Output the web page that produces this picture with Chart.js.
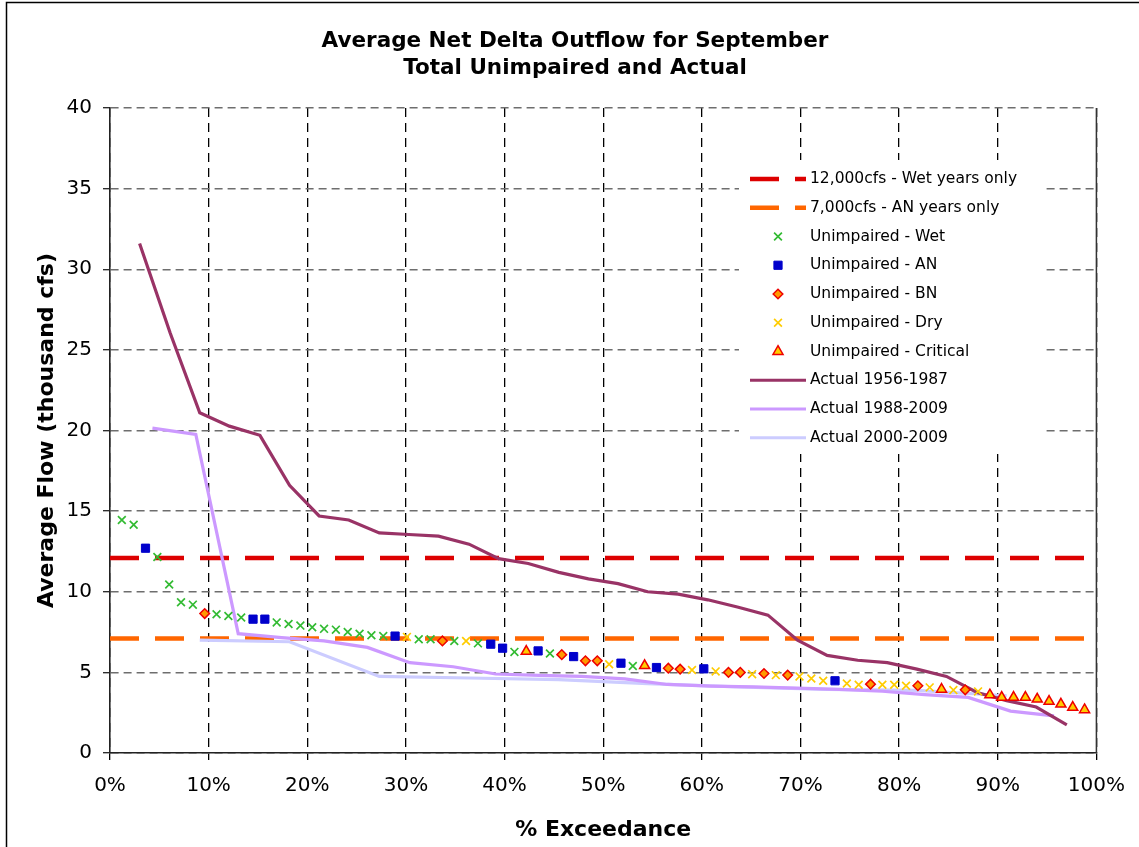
<!DOCTYPE html>
<html>
<head>
<meta charset="utf-8">
<script src="https://cdn.jsdelivr.net/npm/chart.js@4.4.0/dist/chart.umd.min.js"></script>
<style>
  html, body { margin: 0; padding: 0; background: #fff; }
  #wrap { position: relative; width: 1139px; height: 847px; }
</style>
</head>
<body>
<div id="wrap"><canvas id="flowChart"></canvas></div>
<script>
// unimpaired September outflow, sorted, with year type (W, AN, BN, D, C)
const exceedance = [
  1.2, 2.4, 3.6, 4.8, 6.0, 7.2, 8.4, 9.6, 10.8, 12.0,
  13.3, 14.5, 15.7, 16.9, 18.1, 19.3, 20.5, 21.7, 22.9, 24.1,
  25.3, 26.5, 27.7, 28.9, 30.1, 31.3, 32.5, 33.7, 34.9, 36.1,
  37.3, 38.6, 39.8, 41.0, 42.2, 43.4, 44.6, 45.8, 47.0, 48.2,
  49.4, 50.6, 51.8, 53.0, 54.2, 55.4, 56.6, 57.8, 59.0, 60.2,
  61.4, 62.7, 63.9, 65.1, 66.3, 67.5, 68.7, 69.9, 71.1, 72.3,
  73.5, 74.7, 75.9, 77.1, 78.3, 79.5, 80.7, 81.9, 83.1, 84.3,
  85.5, 86.7, 88.0, 89.2, 90.4, 91.6, 92.8, 94.0, 95.2, 96.4,
  97.6, 98.8
];
const unimpairedFlow = [
  14.45, 14.15, 12.7, 12.15, 10.45, 9.35, 9.2, 8.65, 8.6, 8.5,
  8.4, 8.3, 8.3, 8.1, 8.0, 7.9, 7.8, 7.7, 7.65, 7.5,
  7.4, 7.3, 7.25, 7.25, 7.2, 7.05, 7.05, 6.95, 6.95, 6.95,
  6.8, 6.75, 6.5, 6.27, 6.3, 6.33, 6.17, 6.1, 5.98, 5.72,
  5.72, 5.5, 5.57, 5.4, 5.42, 5.3, 5.26, 5.2, 5.15, 5.22,
  5.06, 5.0, 5.0, 4.89, 4.93, 4.83, 4.83, 4.75, 4.62, 4.48,
  4.48, 4.31, 4.23, 4.27, 4.23, 4.23, 4.17, 4.17, 4.07, 3.95,
  3.9, 3.92, 3.82, 3.6, 3.45, 3.45, 3.45, 3.34, 3.2, 3.03,
  2.83, 2.68
];
const yearType = [
  "W", "W", "AN", "W", "W", "W", "W", "BN", "W", "W",
  "W", "AN", "AN", "W", "W", "W", "W", "W", "W", "W",
  "W", "W", "W", "AN", "D", "W", "W", "BN", "W", "D",
  "W", "AN", "AN", "W", "C", "AN", "W", "BN", "AN", "BN",
  "BN", "D", "AN", "W", "C", "AN", "BN", "BN", "D", "AN",
  "D", "BN", "BN", "D", "BN", "D", "BN", "D", "D", "D",
  "AN", "D", "D", "BN", "D", "D", "D", "BN", "D", "C",
  "D", "BN", "D", "C", "C", "C", "C", "C", "C", "C",
  "C", "C"
];

// actual outflow, sorted, per period
const actual5687X = [3.0, 6.1, 9.1, 12.1, 15.2, 18.2, 21.2, 24.2, 27.3, 30.3, 33.3, 36.4, 39.4, 42.4, 45.5, 48.5,
  51.5, 54.5, 57.6, 60.6, 63.6, 66.7, 69.7, 72.7, 75.8, 78.8, 81.8, 84.8, 87.9, 90.9, 93.9, 97.0];
const actual5687 = [31.6, 26.05, 21.1, 20.27, 19.7, 16.6, 14.7, 14.45, 13.65, 13.55, 13.45, 12.95, 12.05, 11.75, 11.2, 10.8,
  10.5, 10.0, 9.85, 9.5, 9.05, 8.55, 7.0, 6.05, 5.75, 5.6, 5.2, 4.75, 3.75, 3.25, 2.85, 1.75];

const actual8809X = [4.3, 8.7, 13.0, 17.4, 21.7, 26.1, 30.4, 34.8, 39.1, 43.5, 47.8,
  52.2, 56.5, 60.9, 65.2, 69.6, 73.9, 78.3, 82.6, 87.0, 91.3, 95.7];
const actual8809 = [20.15, 19.75, 7.4, 7.15, 6.95, 6.55, 5.6, 5.35, 4.9, 4.82, 4.75,
  4.6, 4.25, 4.15, 4.1, 4.02, 3.95, 3.83, 3.62, 3.45, 2.6, 2.3];

const actual0009X = [9.1, 18.2, 27.3, 36.4, 45.5, 54.5, 63.6, 72.7, 81.8, 90.9];
const actual0009 = [7.0, 6.9, 4.75, 4.65, 4.55, 4.3, 4.1, 3.95, 3.88, 3.55];

const wetStandard = 12.1;
const anStandard = 7.1;

const titleLines = ["Average Net Delta Outflow for September", "Total Unimpaired and Actual"];

function typePoints(code) {
  let pts = [];
  exceedance.forEach((x, i) => {
    if (yearType[i] === code) pts.push({ x: x, y: unimpairedFlow[i] });
  });
  return pts;
}

function pairs(xs, ys) {
  return xs.map((x, i) => ({ x: x, y: ys[i] }));
}

const FONT = "'DejaVu Sans', Verdana, sans-serif";

// outer frame, title and the solid right edge of the plot
const frame = {
  id: "frame",
  beforeDraw(chart) {
    const ctx = chart.ctx;
    ctx.save();
    ctx.fillStyle = "#fff";
    ctx.fillRect(0, 0, chart.width, chart.height);
    ctx.strokeStyle = "#000";
    ctx.lineWidth = 1.5;
    ctx.beginPath();
    ctx.moveTo(6.5, chart.height);
    ctx.lineTo(6.5, 2.5);
    ctx.lineTo(chart.width, 2.5);
    ctx.stroke();

    ctx.fillStyle = "#000";
    ctx.font = "bold 21.5px " + FONT;
    ctx.textAlign = "center";
    ctx.textBaseline = "middle";
    titleLines.forEach((t, i) => ctx.fillText(t, 575, 41 + i * 27));
    ctx.restore();
  },
  afterDraw(chart) {
    const ctx = chart.ctx;
    const a = chart.chartArea;
    ctx.save();
    ctx.strokeStyle = "#333";
    ctx.lineWidth = 1.5;
    ctx.beginPath();
    ctx.moveTo(a.right, a.top);
    ctx.lineTo(a.right, a.bottom);
    ctx.stroke();
    ctx.restore();
  }
};

const boxLegend = {
  id: "boxLegend",
  afterDraw(chart) {
    const ctx = chart.ctx;
    const x0 = 750, y0 = 179, rowH = 28.75;
    ctx.save();
    ctx.fillStyle = "#fff";
    ctx.fillRect(739, 160, 303, 294);
    ctx.font = "15.5px " + FONT;
    ctx.textBaseline = "middle";
    chart.data.datasets.forEach((ds, i) => {
      const y = y0 + i * rowH;
      if (ds.showLine === false) {
        ctx.fillStyle = ds.backgroundColor;
        ctx.strokeStyle = ds.borderColor;
        ctx.lineWidth = ds.borderWidth;
        Chart.helpers.drawPoint(ctx, {
          pointStyle: ds.pointStyle, radius: ds.pointRadius, rotation: 0, borderWidth: ds.borderWidth
        }, x0 + 28, y);
      } else {
        ctx.strokeStyle = ds.borderColor;
        ctx.lineWidth = ds.borderWidth;
        ctx.setLineDash(ds.borderDash || []);
        ctx.beginPath();
        ctx.moveTo(x0, y);
        ctx.lineTo(x0 + 56, y);
        ctx.stroke();
        ctx.setLineDash([]);
      }
      ctx.fillStyle = "#000";
      ctx.fillText(ds.label, x0 + 60, y);
    });
    ctx.restore();
  }
};

const ctx = document.getElementById("flowChart");

new Chart(ctx, {
  type: "scatter",
  data: {
    datasets: [
      {
        label: "12,000cfs - Wet years only",
        data: [{ x: 0, y: wetStandard }, { x: 100, y: wetStandard }],
        showLine: true, borderColor: "#dd0000", borderWidth: 4.5, borderDash: [29, 16],
        pointRadius: 0, order: 3
      },
      {
        label: "7,000cfs - AN years only",
        data: [{ x: 0, y: anStandard }, { x: 100, y: anStandard }],
        showLine: true, borderColor: "#ff6600", borderWidth: 4.5, borderDash: [29, 16],
        pointRadius: 0, order: 3
      },
      {
        label: "Unimpaired - Wet",
        data: typePoints("W"), showLine: false,
        pointStyle: "crossRot", pointRadius: 5.5, borderWidth: 1.7,
        borderColor: "#33bb33", backgroundColor: "#33bb33", order: 0
      },
      {
        label: "Unimpaired - AN",
        data: typePoints("AN"), showLine: false,
        pointStyle: "rect", pointRadius: 5.8, borderWidth: 1,
        borderColor: "#0000cc", backgroundColor: "#0000cc", order: 0
      },
      {
        label: "Unimpaired - BN",
        data: typePoints("BN"), showLine: false,
        pointStyle: "rectRot", pointRadius: 4.8, borderWidth: 1.5,
        borderColor: "#ee0000", backgroundColor: "#ff9900", order: 0
      },
      {
        label: "Unimpaired - Dry",
        data: typePoints("D"), showLine: false,
        pointStyle: "crossRot", pointRadius: 5.5, borderWidth: 1.7,
        borderColor: "#ffcc00", backgroundColor: "#ffcc00", order: 0
      },
      {
        label: "Unimpaired - Critical",
        data: typePoints("C"), showLine: false,
        pointStyle: "triangle", pointRadius: 5.8, borderWidth: 1.5,
        borderColor: "#ee0000", backgroundColor: "#ffcc00", order: 0
      },
      {
        label: "Actual 1956-1987",
        data: pairs(actual5687X, actual5687),
        showLine: true, borderColor: "#993366", borderWidth: 3.2, pointRadius: 0, order: 1
      },
      {
        label: "Actual 1988-2009",
        data: pairs(actual8809X, actual8809),
        showLine: true, borderColor: "#cc99ff", borderWidth: 3.2, pointRadius: 0, order: 1
      },
      {
        label: "Actual 2000-2009",
        data: pairs(actual0009X, actual0009),
        showLine: true, borderColor: "#ccccff", borderWidth: 3.2, pointRadius: 0, order: 2
      }
    ]
  },
  options: {
    responsive: true,
    maintainAspectRatio: false,
    animation: false,
    layout: { padding: { left: 8, right: 33, top: 108, bottom: 0 } },
    plugins: {
      legend: { display: false },
      tooltip: { enabled: false },
      title: { display: false }
    },
    scales: {
      x: {
        type: "linear",
        min: 0,
        max: 100,
        afterFit: s => { s.height = 94; },
        ticks: {
          stepSize: 10,
          autoSkip: false,
          maxRotation: 0,
          padding: 14,
          color: "#000",
          font: { family: FONT, size: 20 },
          callback: v => v + "%"
        },
        grid: { color: "#000", lineWidth: 1.3, tickColor: "#000", tickLength: 7, tickWidth: 1.3 },
        border: { display: true, color: "#222", width: 1.6, dash: [9, 6] },
        title: {
          display: true,
          text: "% Exceedance",
          color: "#000",
          font: { family: FONT, size: 22, weight: "bold" },
          padding: { top: 0, bottom: 4 }
        }
      },
      y: {
        min: 0,
        max: 40,
        afterFit: s => { s.width = 102; },
        ticks: {
          stepSize: 5,
          padding: 11,
          color: "#000",
          font: { family: FONT, size: 20 }
        },
        grid: { color: "#6e6e6e", lineWidth: 1.4, tickColor: "#222", tickLength: 7, tickWidth: 1.3 },
        border: { display: true, color: "#222", width: 1.6, dash: [8, 5] },
        title: {
          display: true,
          text: "Average Flow (thousand cfs)",
          color: "#000",
          font: { family: FONT, size: 22, weight: "bold" },
          padding: { top: 26, bottom: 0 }
        }
      }
    }
  },
  plugins: [frame, boxLegend]
});
</script>
</body>
</html>
